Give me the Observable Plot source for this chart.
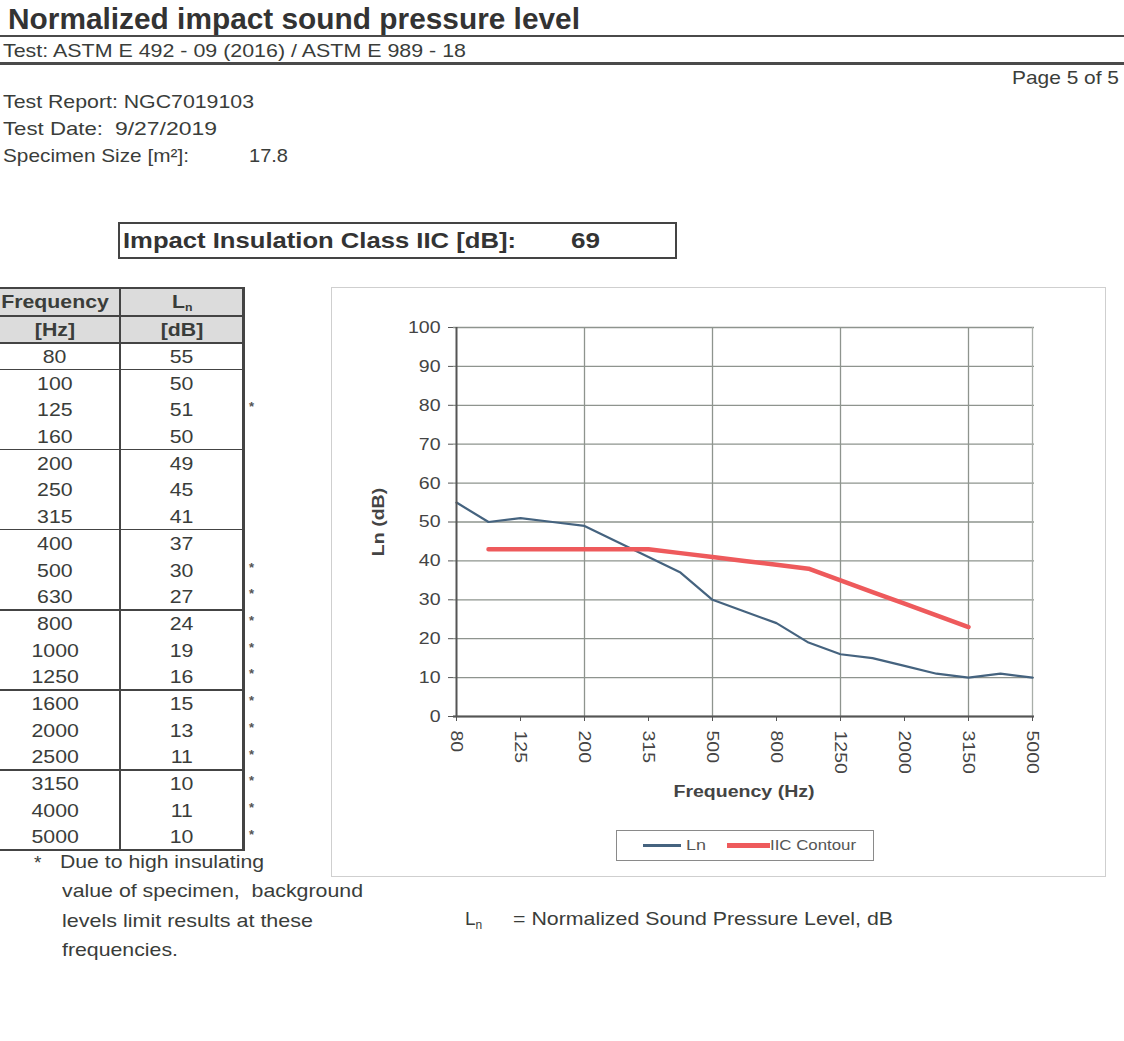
<!DOCTYPE html>
<html>
<head>
<meta charset="utf-8">
<script src="https://cdn.jsdelivr.net/npm/d3@7"></script>
<script src="https://cdn.jsdelivr.net/npm/@observablehq/plot@0.6"></script>
<style>
  html, body { margin: 0; padding: 0; background: #fff; }
  body { width: 1124px; height: 1041px; position: relative; overflow: hidden;
         font-family: "Liberation Sans", Arial, sans-serif; color: #3a3d3a; }
  .abs { position: absolute; white-space: nowrap; line-height: 1; transform-origin: 0 50%; }
  .hr { position: absolute; left: 0; width: 1124px; background: #4a4a4a; }
  .cell { position: absolute; text-align: center; font-size: 19px; line-height: 1; white-space: nowrap; }
  .cell span { display: inline-block; transform: scaleX(1.12); transform-origin: 50% 50%; }
  .vline { position: absolute; background: #444; }
  .hline { position: absolute; background: #444; }
</style>
</head>
<body>
<div id="page"></div>
<script>
// ---------------- data ----------------
const frequencies = [80, 100, 125, 160, 200, 250, 315, 400, 500, 630, 800, 1000, 1250, 1600, 2000, 2500, 3150, 4000, 5000];
const lnValues    = [55, 50, 51, 50, 49, 45, 41, 37, 30, 27, 24, 19, 16, 15, 13, 11, 10, 11, 10];
const iicFrequencies = [100, 125, 160, 200, 250, 315, 400, 500, 630, 800, 1000, 1250, 1600, 2000, 2500, 3150];
const iicValues      = [43, 43, 43, 43, 43, 43, 42, 41, 40, 39, 38, 35, 32, 29, 26, 23];
const xTickLabels = [80, 125, 200, 315, 500, 800, 1250, 2000, 3150, 5000];
const xGridFreqs  = [200, 500, 1250, 3150];
const yTickValues = [0, 10, 20, 30, 40, 50, 60, 70, 80, 90, 100];
const starredFreqs = [125, 500, 630, 800, 1000, 1250, 1600, 2000, 2500, 3150, 4000, 5000];
const groupEnds = [80, 160, 315, 630, 1250, 2500, 5000];
const iicRating = 69;

const page = document.getElementById("page");
function add(html) { page.insertAdjacentHTML("beforeend", html); return page.lastElementChild; }
// text with horizontal stretch to match the scanned page's width
function txt(html, left, top, size, targetWidth, extra = "") {
  const el = add(`<div class="abs" style="left:${left}px;top:${top}px;font-size:${size}px;${extra}">${html}</div>`);
  if (targetWidth) {
    const w = el.getBoundingClientRect().width;
    el.style.transform = `scaleX(${(targetWidth / w).toFixed(4)})`;
  }
  return el;
}

// ---------------- header ----------------
txt("Normalized impact sound pressure level", 8, 5, 29, 572, "font-weight:bold;color:#333;");
add(`<div class="hr" style="top:35px;height:2px;"></div>`);
txt("Test: ASTM E 492 - 09 (2016) / ASTM E 989 - 18", 3, 41, 19, 463);
add(`<div class="hr" style="top:62px;height:3px;"></div>`);
txt("Page 5 of 5", 1012, 68, 19, 107);
txt("Test Report: NGC7019103", 3, 92, 19, 251);
txt("Test Date:", 3, 119, 19, 100);
txt("9/27/2019", 115, 119, 19, 102);
txt("Specimen Size [m²]:", 3, 146, 19, 186);
txt("17.8", 249, 146, 19, 39);

// IIC box
add(`<div style="position:absolute;left:118px;top:222px;width:555px;height:33px;border:2px solid #444;"></div>`);
txt("Impact Insulation Class IIC [dB]:", 123, 230, 22, 393, "font-weight:bold;color:#333;");
txt(String(iicRating), 571, 230, 22, 29, "font-weight:bold;color:#333;");

// ---------------- table ----------------
const rowH = 26.7, dataTop = 343;
add(`<div style="position:absolute;left:0;top:288px;width:242px;height:55px;background:#dcdcdc;"></div>`);
add(`<div class="cell" style="left:-10px;width:130px;top:292px;font-weight:bold;"><span>Frequency</span></div>`);
add(`<div class="cell" style="left:120px;width:124px;top:292px;font-weight:bold;"><span>L<sub style="font-size:11px;vertical-align:-3px;">n</sub></span></div>`);
add(`<div class="cell" style="left:-10px;width:130px;top:320px;font-weight:bold;"><span>[Hz]</span></div>`);
add(`<div class="cell" style="left:120px;width:124px;top:320px;font-weight:bold;"><span>[dB]</span></div>`);
add(`<div class="hline" style="left:0;top:287px;width:244px;height:2px;"></div>`);
add(`<div class="hline" style="left:0;top:315px;width:244px;height:1.5px;"></div>`);
add(`<div class="hline" style="left:0;top:342px;width:244px;height:1.5px;"></div>`);
frequencies.forEach((f, i) => {
  const top = dataTop + i * rowH;
  const t = top + rowH / 2 - 9.5;
  add(`<div class="cell" style="left:-10px;width:130px;top:${t.toFixed(1)}px;"><span>${f}</span></div>`);
  add(`<div class="cell" style="left:120px;width:124px;top:${t.toFixed(1)}px;"><span>${lnValues[i]}</span></div>`);
  if (groupEnds.includes(f)) {
    add(`<div class="hline" style="left:0;top:${(top + rowH - 1).toFixed(1)}px;width:244px;height:1.5px;"></div>`);
  }
  if (starredFreqs.includes(f)) {
    add(`<div class="abs" style="left:249px;top:${(top + 4).toFixed(1)}px;font-size:13px;font-weight:bold;color:#555;">*</div>`);
  }
});
const tableBottom = dataTop + frequencies.length * rowH;
add(`<div class="vline" style="left:119px;top:288px;width:1.5px;height:${tableBottom - 288}px;"></div>`);
add(`<div class="vline" style="left:242px;top:287px;width:3px;height:${tableBottom - 287 + 1}px;"></div>`);

// footnote
txt("*", 34, 853, 19);
const footLines = ["Due to high insulating", "value of specimen,&nbsp; background", "levels limit results at these", "frequencies."];
const footWidths = [204, 301, 251, 116];
footLines.forEach((s, i) => txt(s, i === 0 ? 60 : 62, 852 + i * 29.3, 19, footWidths[i]));

// bottom definition
txt(`L<sub style="font-size:12px;vertical-align:-4px;">n</sub>`, 465, 909, 19);
txt("= Normalized Sound Pressure Level, dB", 513, 909, 19, 380);

// ---------------- chart ----------------
add(`<div style="position:absolute;left:331px;top:287px;width:773px;height:588px;border:1.5px solid #cfcfcf;"></div>`);

const lnData = frequencies.map((f, i) => ({ f, v: lnValues[i] }));
const iicData = iicFrequencies.map((f, i) => ({ f, v: iicValues[i] }));

const chart = Plot.plot({
  width: 776, height: 590,
  marginLeft: 122, marginTop: 40, marginRight: 73, marginBottom: 161,
  style: { fontFamily: "Liberation Sans, Arial, sans-serif", fontSize: "17px", color: "#444", background: "transparent", overflow: "visible" },
  x: { type: "point", domain: frequencies, padding: 0 },
  y: { domain: [0, 100] },
  marks: [
    Plot.ruleY(yTickValues, { stroke: "#8e948e", strokeWidth: 1.3 }),
    Plot.ruleX(xGridFreqs, { stroke: "#8e948e", strokeWidth: 1.3 }),
    Plot.ruleX([5000], { stroke: "#a9aea9", strokeWidth: 1.3 }),
    Plot.line(lnData, { x: "f", y: "v", stroke: "#45637f", strokeWidth: 2.2 }),
    Plot.line(iicData, { x: "f", y: "v", stroke: "#ee5a5c", strokeWidth: 4.5 }),
    Plot.axisY({ ticks: yTickValues, tickSize: 5, tickPadding: 8, label: null, stroke: "#555", fontSize: 17 }),
    Plot.axisX({ ticks: xTickLabels, tickFormat: d => String(d), tickSize: 5, tickPadding: 9, tickRotate: 90, label: null, stroke: "#555", fontSize: 17 }),
    Plot.ruleX([80], { stroke: "#555", strokeWidth: 2 }),
    Plot.ruleY([0], { stroke: "#555", strokeWidth: 2 }),
    Plot.text(["Frequency (Hz)"], { text: d => d, frameAnchor: "bottom", dy: 75, lineAnchor: "middle", textAnchor: "middle", fontWeight: "bold", fontSize: 17, fill: "#444" }),
    Plot.text(["Ln (dB)"], { text: d => d, frameAnchor: "left", dx: -75, rotate: -90, textAnchor: "middle", lineAnchor: "middle", fontWeight: "bold", fontSize: 17, fill: "#444" })
  ]
});
// stretch all chart texts horizontally along their reading direction (scanned look)
chart.querySelectorAll("text").forEach(t => {
  let tr = t.getAttribute("transform") || "";
  const pre = [];
  ["x", "y"].forEach(a => {
    const v = t.getAttribute(a);
    if (v !== null && /^-?[\d.]+$/.test(v.trim())) { pre.push([a, +v]); t.removeAttribute(a); }
  });
  if (pre.length) {
    const x = (pre.find(p => p[0] === "x") || [0, 0])[1];
    const y = (pre.find(p => p[0] === "y") || [0, 0])[1];
    tr += ` translate(${x},${y})`;
  }
  t.setAttribute("transform", tr + " scale(1.15,1)");
});
chart.style.position = "absolute";
chart.style.left = "331px";
chart.style.top = "287px";
page.appendChild(chart);

// legend
add(`<div style="position:absolute;left:616px;top:830px;width:256px;height:29px;border:1.5px solid #8a8a8a;background:#fff;"></div>`);
add(`<div style="position:absolute;left:643px;top:844px;width:38px;height:2.5px;background:#45637f;"></div>`);
txt("Ln", 686, 838, 14, 20, "color:#555;");
add(`<div style="position:absolute;left:727px;top:843px;width:43px;height:4.5px;background:#ee5a5c;"></div>`);
txt("IIC Contour", 770, 838, 14, 86, "color:#555;");
</script>
</body>
</html>
